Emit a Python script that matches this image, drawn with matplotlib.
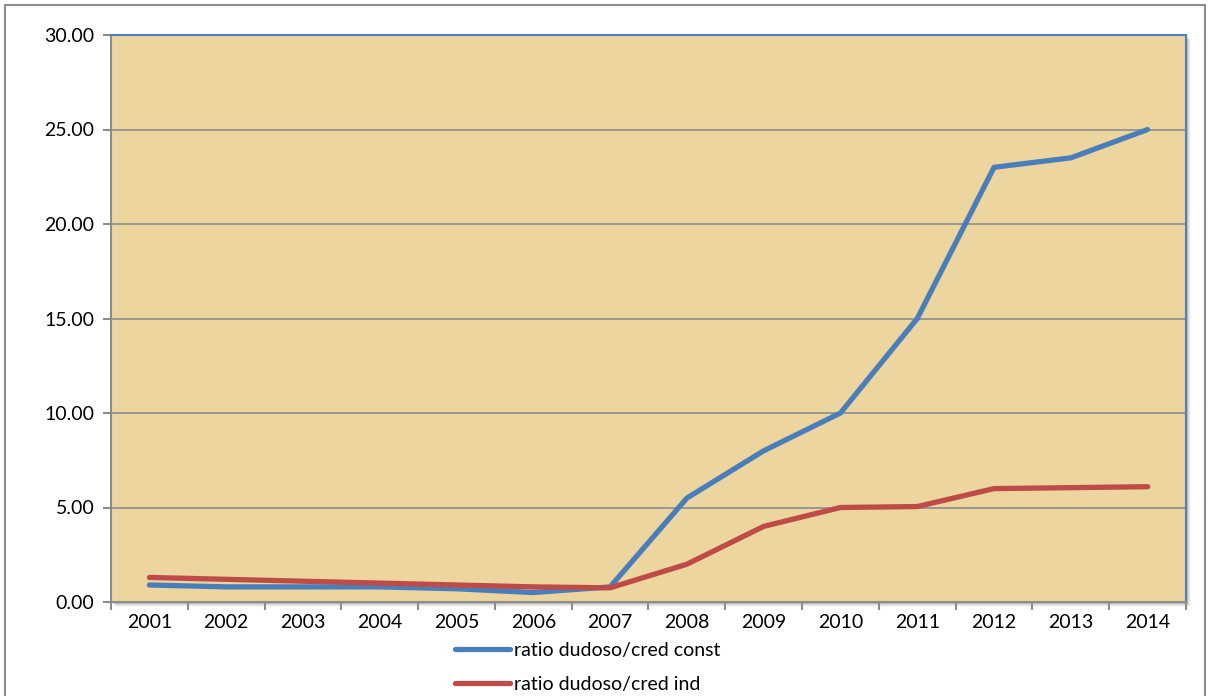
import numpy as np
import matplotlib.pyplot as plt
from matplotlib.patches import Rectangle

plt.rcParams['font.family'] = ['Lato', 'DejaVu Sans']

years = ['2001', '2002', '2003', '2004', '2005', '2006', '2007',
         '2008', '2009', '2010', '2011', '2012', '2013', '2014']
ratio_const = [0.9, 0.8, 0.8, 0.8, 0.7, 0.5, 0.8, 5.5, 8.0, 10.0, 15.0, 23.0, 23.5, 25.0]
ratio_ind = [1.3, 1.2, 1.1, 1.0, 0.9, 0.8, 0.75, 2.0, 4.0, 5.0, 5.05, 6.0, 6.05, 6.1]

fig = plt.figure(figsize=(12.12, 6.96), dpi=100)
ax = fig.add_axes([111 / 1212, 1 - 602 / 696, 1075 / 1212, 567 / 696])
ax.set_zorder(2)

# outer chart border
fig.patches.append(Rectangle((5 / 1212, -0.05), 1200 / 1212, 1 - 5 / 696 + 0.05,
                             transform=fig.transFigure, fill=False,
                             edgecolor='#8c8c8c', lw=1.5, zorder=3))
# drop shadow of plot area
for i, a in enumerate([0.12, 0.08, 0.05, 0.03]):
    fig.patches.append(Rectangle((111 / 1212 + (i + 2) / 1212, 1 - 602 / 696 - (i + 2) / 696),
                                 1075 / 1212, 567 / 696, transform=fig.transFigure,
                                 facecolor='black', alpha=a, edgecolor='none', zorder=1))

ax.set_facecolor('#ecd59e')
x = np.arange(len(years))
ax.plot(x, ratio_const, color='#4a7ebb', lw=3.8, solid_capstyle='round',
        solid_joinstyle='round', label='ratio dudoso/cred const', zorder=3)
ax.plot(x, ratio_ind, color='#be4b48', lw=3.8, solid_capstyle='round',
        solid_joinstyle='round', label='ratio dudoso/cred ind', zorder=3)

ax.set_xlim(-0.5, len(years) - 0.5)
ax.set_ylim(0, 30)
ax.set_yticks(np.arange(0, 31, 5))
ax.set_yticklabels([f'{v:.2f}' for v in np.arange(0, 31, 5)], fontsize=14)
ax.set_xticks(x)
ax.set_xticklabels(years, fontsize=14)
ax.set_xticks(np.arange(-0.5, len(years), 1), minor=True)
ax.tick_params(axis='x', which='major', length=0, pad=9)
ax.tick_params(axis='x', which='minor', length=6, color='#8c8c8c', width=1.5)
ax.tick_params(axis='y', length=6, color='#8c8c8c', width=1.5, pad=6)
ax.grid(axis='y', color='#8c8c8c', lw=1.2)
ax.set_axisbelow(True)

for s in ['left', 'bottom']:
    ax.spines[s].set_color('#8c8c8c')
    ax.spines[s].set_linewidth(1.5)
for s in ['top', 'right']:
    ax.spines[s].set_color('#4f81bd')
    ax.spines[s].set_linewidth(1.5)

fig.legend(loc='center', bbox_to_anchor=(0.485, 0.041), frameon=False,
           fontsize=14, handlelength=2.8, handletextpad=0.2, labelspacing=0.85)

fig.savefig('out.png', dpi=100)
